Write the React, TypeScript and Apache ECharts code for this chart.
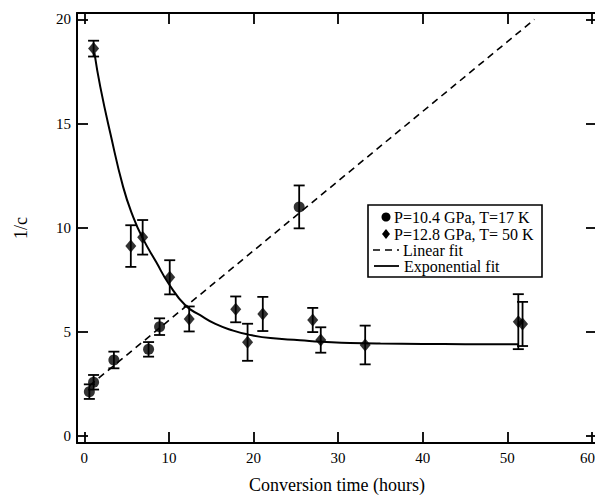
import React, { useEffect, useRef } from "react";
import * as echarts from "echarts";

const FONT = "'Liberation Serif', 'Times New Roman', serif";

const seriesNames = ["P=10.4 GPa, T=17 K", "P=12.8 GPa, T= 50 K", "Linear fit", "Exponential fit"];

const circleX = [0.6, 1.1, 3.5, 7.6, 8.9, 25.4];
const circleY = [2.13, 2.58, 3.65, 4.16, 5.25, 11.0];
const circleErr = [0.35, 0.35, 0.4, 0.35, 0.4, 1.03];

const diamondX = [1.1, 5.5, 6.9, 10.1, 12.4, 17.9, 19.3, 21.1, 27.0, 27.95, 33.2, 51.3, 51.8];
const diamondY = [18.6, 9.12, 9.54, 7.62, 5.62, 6.08, 4.5, 5.86, 5.57, 4.61, 4.37, 5.49, 5.38];
const diamondErr = [0.38, 1.0, 0.83, 0.82, 0.6, 0.62, 0.89, 0.82, 0.58, 0.61, 0.93, 1.32, 1.06];

const linX = [0.6, 53.2];
const linY = [2.41, 20.0];

const expX = [1.2, 1.9, 3.1, 4.6, 5.8, 6.9, 8.5, 10, 12, 13.7, 15.5, 17.6, 19.3, 22, 25.5, 28, 31.4, 35, 40, 45, 51.3];
const expY = [18.4, 16.75, 14.5, 11.95, 10.5, 9.5, 8.35, 7.3, 6.25, 5.8, 5.38, 5.06, 4.88, 4.7, 4.6, 4.52, 4.47, 4.44, 4.42, 4.41, 4.41];

const zip2 = (a: number[], b: number[]) => a.map((v, i) => [v, b[i]]);
const zip3 = (a: number[], b: number[], c: number[]) => a.map((v, i) => [v, b[i], c[i]]);

const errRender = (params: any, api: any) => {
  const x = api.value(0);
  const y = api.value(1);
  const e = api.value(2);
  const top = api.coord([x, y + e]);
  const bot = api.coord([x, y - e]);
  const w = 5.5;
  const style = { stroke: "#000", lineWidth: 1.8 };
  return {
    type: "group",
    children: [
      { type: "line", shape: { x1: top[0], y1: top[1], x2: bot[0], y2: bot[1] }, style },
      { type: "line", shape: { x1: top[0] - w, y1: top[1], x2: top[0] + w, y2: top[1] }, style },
      { type: "line", shape: { x1: bot[0] - w, y1: bot[1], x2: bot[0] + w, y2: bot[1] }, style },
    ],
  };
};

export default function App() {
  const ref = useRef<HTMLDivElement>(null);
  useEffect(() => {
    if (!ref.current) return;
    const chart = echarts.init(ref.current, undefined, { renderer: "svg" });
    const mkLine = () => ({ show: true, onZero: false, lineStyle: { color: "#000", width: 2 } });
    const mkTick = () => ({ show: true, inside: true, length: 11, lineStyle: { color: "#000", width: 1.8 } });
    const mkLabel = (margin: number) => ({
      color: "#000",
      fontFamily: FONT,
      fontSize: 15,
      margin,
      showMinLabel: false,
      showMaxLabel: false,
    });
    const legendText = (text: string, x: number, y: number) => ({
      type: "text",
      x,
      y,
      z: 11,
      style: {
        text,
        font: `16px ${FONT}`,
        lineHeight: 15,
        fill: "#000",
        verticalAlign: "middle",
        align: "left",
      },
    });
    chart.setOption({
      animation: false,
      backgroundColor: "#fff",
      grid: { left: 77, top: 13, bottom: 52, right: -2, containLabel: false, outerBoundsMode: "none" },
      xAxis: [
        {
          type: "value",
          min: -0.86,
          max: 60.6,
          splitNumber: 6,
          splitLine: { show: false },
          position: "bottom",
          axisLine: mkLine(),
          axisTick: mkTick(),
          axisLabel: {
            ...mkLabel(7),
            formatter: (v: number) => (v === 60 ? "{e|60}" : String(v)),
            rich: { e: { fontFamily: FONT, fontSize: 15, color: "#000", padding: [0, 9, 0, 0] } },
          },
          name: "Conversion time (hours)",
          nameLocation: "middle",
          nameGap: 33,
          nameMoveOverlap: false,
          nameTextStyle: { color: "#000", fontFamily: FONT, fontSize: 18 },
        },
        {
          type: "value",
          min: -0.86,
          max: 60.6,
          splitNumber: 6,
          splitLine: { show: false },
          position: "top",
          axisLine: mkLine(),
          axisTick: mkTick(),
          axisLabel: { show: false },
        },
      ],
      yAxis: [
        {
          type: "value",
          min: -0.336,
          max: 20.31,
          splitNumber: 4,
          splitLine: { show: false },
          position: "left",
          axisLine: mkLine(),
          axisTick: mkTick(),
          axisLabel: mkLabel(6),
          name: "1/c",
          nameLocation: "middle",
          nameGap: 47,
          nameMoveOverlap: false,
          nameTextStyle: { color: "#000", fontFamily: FONT, fontSize: 18 },
        },
        {
          type: "value",
          min: -0.336,
          max: 20.31,
          splitNumber: 4,
          splitLine: { show: false },
          position: "right",
          axisLine: mkLine(),
          axisTick: mkTick(),
          axisLabel: { show: false },
        },
      ],
      series: [
        {
          name: seriesNames[2],
          type: "line",
          data: zip2(linX, linY),
          symbol: "none",
          lineStyle: { color: "#000", width: 1.6, type: [7, 5] },
        },
        {
          name: seriesNames[3],
          type: "line",
          data: zip2(expX, expY),
          symbol: "none",
          smooth: 0.5,
          lineStyle: { color: "#000", width: 2 },
        },
        {
          type: "custom",
          renderItem: errRender,
          data: zip3(circleX, circleY, circleErr),
          encode: { x: 0, y: 1 },
        },
        {
          type: "custom",
          renderItem: errRender,
          data: zip3(diamondX, diamondY, diamondErr),
          encode: { x: 0, y: 1 },
        },
        {
          name: seriesNames[0],
          type: "scatter",
          data: zip2(circleX, circleY),
          symbol: "circle",
          symbolSize: 11,
          itemStyle: { color: "#000" },
        },
        {
          name: seriesNames[1],
          type: "scatter",
          data: zip2(diamondX, diamondY),
          symbol: "diamond",
          symbolSize: [11, 13],
          itemStyle: { color: "#000" },
        },
      ],
      graphic: [
        {
          type: "rect",
          z: 10,
          shape: { x: 368, y: 205, width: 174, height: 72 },
          style: { fill: "#fff", stroke: "#000", lineWidth: 1.6 },
        },
        { type: "circle", z: 11, shape: { cx: 386, cy: 217, r: 4.5 }, style: { fill: "#000" } },
        {
          type: "polygon",
          z: 11,
          shape: { points: [[386, 229], [390, 234], [386, 239], [382, 234]] },
          style: { fill: "#000" },
        },
        {
          type: "line",
          z: 11,
          shape: { x1: 373, y1: 250, x2: 399, y2: 250 },
          style: { stroke: "#000", lineWidth: 1.6, lineDash: [7, 5] },
        },
        {
          type: "line",
          z: 11,
          shape: { x1: 374, y1: 266, x2: 399, y2: 266 },
          style: { stroke: "#000", lineWidth: 1.8 },
        },
        legendText(seriesNames[0], 394, 217),
        legendText(seriesNames[1], 394, 234),
        legendText(seriesNames[2], 403, 250),
        legendText(seriesNames[3], 404, 266),
      ],
    });
    return () => chart.dispose();
  }, []);
  return (
    <div
      ref={ref}
      style={{ position: "absolute", left: 0, top: 0, width: 595, height: 495, background: "#fff" }}
    />
  );
}
